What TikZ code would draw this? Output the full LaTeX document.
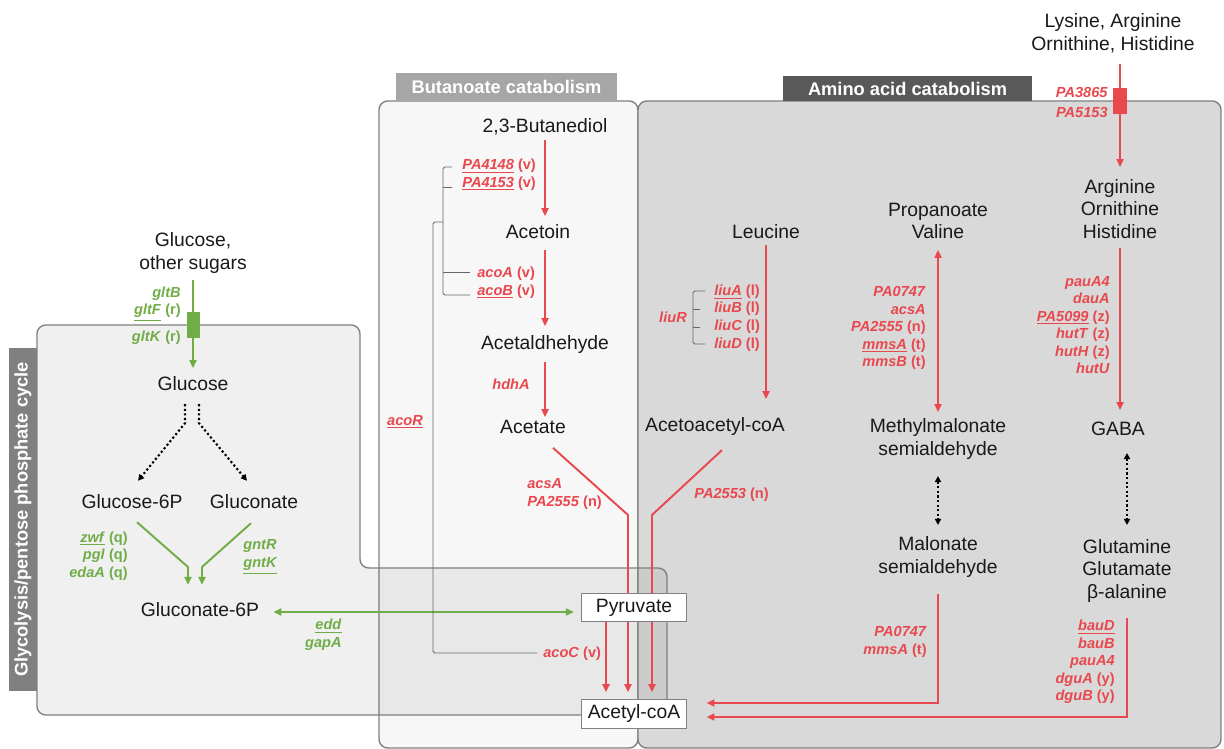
\documentclass[tikz,border=0pt]{standalone}
\usepackage{fontspec}
\setmainfont{Liberation Sans}
\usetikzlibrary{calc,arrows.meta}
\definecolor{redc}{RGB}{232,72,78}
\definecolor{greenc}{RGB}{112,173,71}
\def\gene#1{\textit{#1}}
\def\ugene#1{\underline{\textit{#1}}}
\tikzset{
	ptip/.tip={Triangle[length=4.5pt,width=4pt]},
	stip/.tip={Triangle[length=3.5pt,width=3.5pt]},
	panel/.style={draw=black!50, line width=0.8pt, rounded corners=5pt},
	tab/.style={font=\fontsize{10.4}{12}\selectfont\bfseries, text=white, inner sep=0pt},
	met/.style={font=\fontsize{11}{13}\selectfont, align=center, inner sep=1pt, text=black!90},
	box/.style={met, draw=black!50, fill=white, line width=0.6pt, minimum width=60pt, minimum height=16.4pt},
	rgene/.style={font=\fontsize{8.3}{10}\selectfont\bfseries, text=redc, inner sep=0pt},
	ggene/.style={rgene, text=greenc},
	rarr/.style={draw=redc, line width=1.1pt, -ptip},
	rdarr/.style={draw=redc, line width=1.1pt, ptip-ptip},
	garr/.style={draw=greenc, line width=1.1pt, -ptip},
	gdarr/.style={draw=greenc, line width=1.1pt, ptip-ptip},
	darr/.style={draw=black, line width=1.2pt, dash pattern=on 1.2pt off 1.4pt, -stip},
	ddarr/.style={darr, stip-stip},
	brk/.style={draw=black!60, line width=0.5pt, rounded corners=1pt}
}

\begin{document}
\begin{tikzpicture}[x=0.02cm, y=-0.02cm]
	%%%%% START %%%%%
	\useasboundingbox (0,0) rectangle (1224,749);
	
	% panels
	\draw[panel, fill=black!3] (379,101) rectangle (638,748);
	\draw[panel, fill=black!15] (638,101) rectangle (1221,748);
	\draw[panel, fill=black, fill opacity=0.06] (37,715) -- (37,325) -- (360,325) -- (360,568) -- (667,568) -- (667,715) -- cycle;
	
	\node[tab, fill=black!35, minimum width=125.3pt, minimum height=15.9pt] (buttab) at (506.5,87) {Butanoate catabolism};
	\node[tab, fill=black!65, minimum width=141.2pt, minimum height=14.2pt] (amitab) at (907.5,88.5) {Amino acid catabolism};
	\node[tab, fill=black!50, rotate=90, minimum width=195.6pt, minimum height=15.9pt] (glytab) at (23,519.5) {Glycolysis/pentose phosphate cycle};
	
	% metabolites
	\node[met] (sugars) at (193,253) {Glucose,\\other sugars};
	\node[met] (glucose) at (193,384) {Glucose};
	\node[met] (g6p) at (132,502) {Glucose-6P};
	\node[met] (gluconate) at (254,502) {Gluconate};
	\node[met] (gl6p) at (200,610) {Gluconate-6P};
	
	\node[met] (bdiol) at (545,127) {2,3-Butanediol};
	\node[met] (acetoin) at (538,232) {Acetoin};
	\node[met] (acald) at (545,345) {Acetaldhehyde};
	\node[met] (acetate) at (533,427) {Acetate};
	
	\node[met] (leucine) at (766,232) {Leucine};
	\node[met] (acac) at (715,427) {Acetoacetyl-coA};
	\node[met] (propval) at (938,221) {Propanoate\\Valine};
	\node[met] (mmsa) at (938,439) {Methylmalonate\\semialdehyde};
	\node[met] (msa) at (938,557) {Malonate\\semialdehyde};
	\node[met] (lys) at (1113,33) {Lysine, Arginine\\Ornithine, Histidine};
	\node[met] (aoh) at (1120,209) {Arginine\\Ornithine\\Histidine};
	\node[met] (gaba) at (1118,429) {GABA};
	\node[met] (glu) at (1127,571) {Glutamine\\Glutamate\\β-alanine};
	
	\node[box] (acoa) at (634,714) {Acetyl-coA};
	
	% into pyruvate / acetyl-coA
	\draw[rarr, shorten >=4pt] ($(acetate.south)+(20,12)$) -- (628,515) -- (acoa.north -| 628,0);
	\draw[rarr, shorten >=4pt] ($(acac.south)+(7,12)$) -- (652,515) -- (acoa.north -| 652,0);
	\node[box] (pyr) at (634,607.5) {Pyruvate};
	\draw[rarr, shorten >=4pt] (pyr.south -| 606,0) -- (acoa.north -| 606,0);
	
	% glycolysis
	\draw[garr] (sugars.south |- 0,280) -- (glucose.north |- 0,368);
	\fill[greenc] (187,312) rectangle (200,338);
	\draw[darr] ($(glucose.south)+(-8,11)$) -- ++(0,19) -- ($(g6p.north)+(6,-12)$);
	\draw[darr] ($(glucose.south)+(6,11)$) -- ++(0,19) -- ($(gluconate.north)+(-7,-12)$);
	\draw[garr] ($(g6p.south)+(5,11)$) -- (188,567) -- ($(gl6p.north)+(-12,-16)$);
	\draw[garr] ($(gluconate.south)+(-3,12)$) -- (202,567) -- ($(gl6p.north)+(2,-16)$);
	\draw[gdarr, shorten <=7pt, shorten >=4pt] (gl6p.east |- 0,612) -- (pyr.west |- 0,612);
	
	\node[ggene, anchor=east, align=right] (gltbf) at (181,304) {\gene{gltB}\\\ugene{gltF} (r)};
	\node[ggene, anchor=east] (gltk) at (181,338) {\gene{gltK} (r)};
	\node[ggene, anchor=east, align=right] (zwf) at (128,556) {\ugene{zwf} (q)\\\gene{pgl} (q)\\\gene{edaA} (q)};
	\node[ggene, anchor=west, align=left] (gnt) at (243,557) {\gene{gntR}\\\ugene{gntK}};
	\node[ggene, anchor=east, align=right] (edd) at (342,635) {\ugene{edd}\\\gene{gapA}};
	
	% butanoate
	\draw[rarr] (bdiol.south |- 0,140) -- (bdiol.south |- 0,216);
	\draw[rarr] (acald.north |- 0,250) -- (acald.north |- 0,326);
	\draw[rarr] (acald.south |- 0,362) -- (acald.south |- 0,417);
	
	\node[rgene, anchor=west, align=left] (pa41) at (462,175) {\ugene{PA4148} (v)\\\ugene{PA4153} (v)};
	\node[rgene, anchor=west, align=left] (acoab) at (477,283) {\gene{acoA} (v)\\\ugene{acoB} (v)};
	\node[rgene, anchor=east] (hdha) at (530,384) {\gene{hdhA}};
	\node[rgene] (acor) at (405,422) {\ugene{acoR}};
	\node[rgene, anchor=west, align=left] (acsa) at (527,494) {\gene{acsA}\\\gene{PA2555} (n)};
	\node[rgene, anchor=west] (acoc) at (543,654) {\gene{acoC} (v)};
	
	\draw[brk] (452,167) -- (443,167) -- (443,295) -- (470,295);
	\draw[brk] (452,187) -- (443,187);
	\draw[brk] (443,272) -- (470,272);
	\draw[brk] (443,222) -- (433,222) -- (433,653) -- (537,653);
	
	% amino acids
	\draw[rarr] (leucine.south |- 0,245) -- (leucine.south |- 0,399);
	\draw[rdarr] (propval.south |- 0,250) -- (propval.south |- 0,412);
	\draw[ddarr] (mmsa.south |- 0,476) -- (mmsa.south |- 0,525);
	\draw[rarr, shorten >=11pt] (msa.south |- 0,594) -- (msa.south |- 0,703) -- (acoa.east |- 0,703);
	\draw[rarr] (aoh.north |- 0,64) -- (aoh.north |- 0,167);
	\fill[redc] (1113,88) rectangle (1127,114);
	\draw[rarr] (aoh.south |- 0,248) -- (aoh.south |- 0,410);
	\draw[ddarr] (glu.north |- 0,453) -- (glu.north |- 0,525);
	\draw[rarr, shorten >=11pt] (glu.south |- 0,618) -- (glu.south |- 0,717) -- (acoa.east |- 0,717);
	
	\node[rgene, anchor=west, align=left] (liu) at (714,318) {\ugene{liuA} (l)\\\gene{liuB} (l)\\\gene{liuC} (l)\\\gene{liuD} (l)};
	\node[rgene] (liur) at (673,317) {\gene{liuR}};
	\draw[brk] (705,291) -- (693,291) -- (693,344) -- (705,344);
	\draw[brk] (693,309) -- (700,309);
	\draw[brk] (693,327) -- (700,327);
	\node[rgene, anchor=west] (pa2553) at (694,495) {\gene{PA2553} (n)};
	\node[rgene, anchor=east, align=right] (mms) at (926,328) {\gene{PA0747}\\\gene{acsA}\\\gene{PA2555} (n)\\\ugene{mmsA} (t)\\\gene{mmsB} (t)};
	\node[rgene, anchor=east, align=right] (mmsb) at (927,642) {\gene{PA0747}\\\gene{mmsA} (t)};
	\node[rgene, anchor=east] (pa38) at (1108,92) {\gene{PA3865}};
	\node[rgene, anchor=east] (pa51) at (1108,112) {\gene{PA5153}};
	\node[rgene, anchor=east, align=right] (pau) at (1110,325) {\gene{pauA4}\\\gene{dauA}\\\ugene{PA5099} (z)\\\gene{hutT} (z)\\\gene{hutH} (z)\\\gene{hutU}};
	\node[rgene, anchor=east, align=right] (bau) at (1115,662) {\ugene{bauD}\\\gene{bauB}\\\gene{pauA4}\\\gene{dguA} (y)\\\gene{dguB} (y)};
	%%%%% END %%%%%
\end{tikzpicture}
\end{document}
